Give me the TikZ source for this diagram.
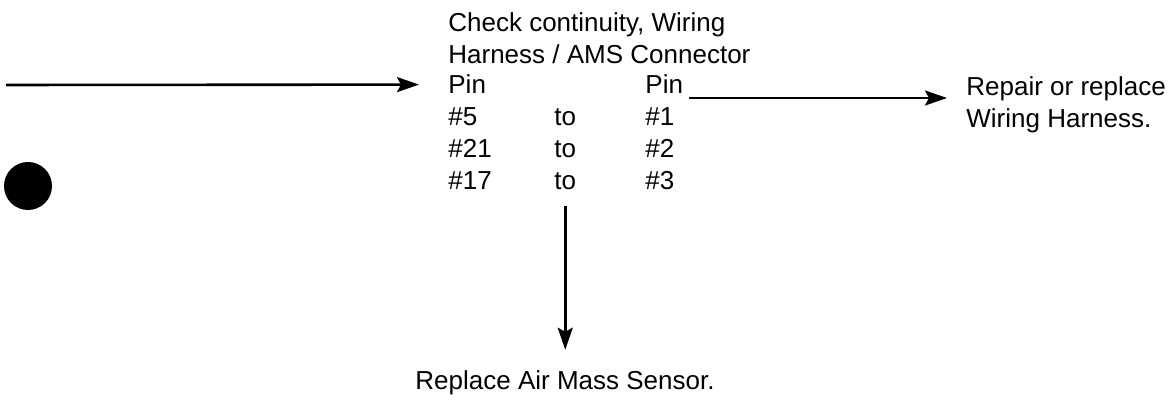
\documentclass[tikz,border=0pt]{standalone}
\usepackage{fontspec}
\setmainfont{Liberation Sans}
\usepackage{tikz}
\usetikzlibrary{arrows.meta, positioning}

\begin{document}
\begin{tikzpicture}[
        x=0.5pt, y=0.5pt,
        every node/.style={font=\fontsize{13}{16}\selectfont, inner sep=0pt, anchor=base west},
        step list/.style={align=left},
        arrow/.style={-{Stealth[length=11pt, width=7.5pt, inset=2pt]}, line width=1.3pt}
    ]
        \useasboundingbox (0,0) rectangle (1171,400);

        \node (check) at (448,368) {Check continuity, Wiring};
        \node (harness) at (448,336) {Harness / AMS Connector};
        \node (pinL) at (448,306) {Pin};
        \node (pinR) at (645,306) {Pin};
        \foreach \a/\b [count=\i] in {5/1, 21/2, 17/3} {
            \node (from\i) at (448,306-32*\i) {\#\a};
            \node (to\i) at (554,306-32*\i) {to};
            \node (dest\i) at (645,306-32*\i) {\#\b};
        }
        \node[step list, anchor=west] (repair) at (966,295) {Repair or replace\\Wiring Harness.};
        \node[anchor=base] (replace) at (565,10) {Replace Air Mass Sensor.};
        \coordinate (in) at (6,315);

        \fill (28,214) circle (24);

        \draw[arrow, shorten >=14.5pt] (in) -- (pinL.west);
        \draw[arrow, shorten <=3pt, shorten >=9.5pt] ([yshift=-2pt]pinR.base east) -- ([yshift=-2pt]pinR.base east -| repair.west);
        \draw[arrow, shorten <=7.5pt, shorten >=10.5pt] (to3.south) -- (to3.south |- replace.north);
    \end{tikzpicture}
\end{document}
